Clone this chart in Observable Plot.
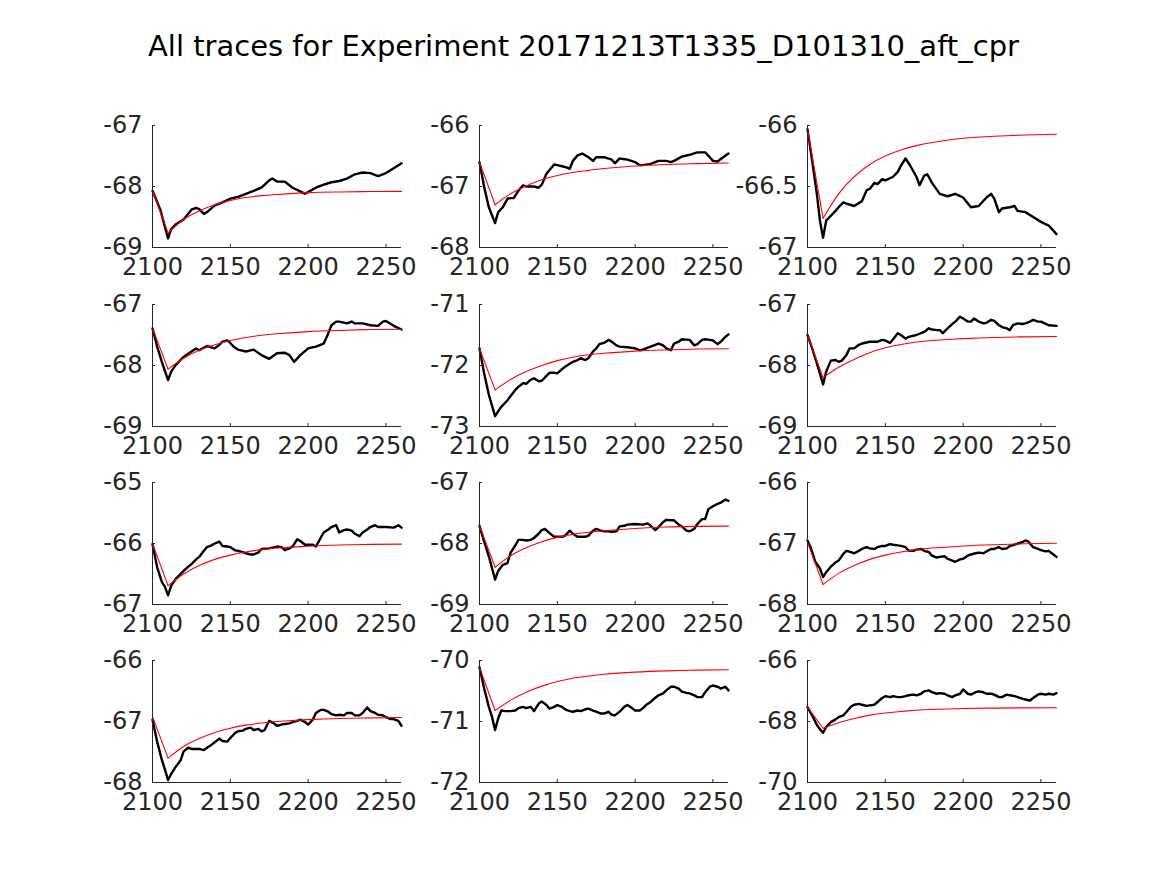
<!DOCTYPE html>
<html><head><meta charset="utf-8">
<script src="https://cdn.jsdelivr.net/npm/d3@7"></script>
<script src="https://cdn.jsdelivr.net/npm/@observablehq/plot@0.6"></script>
<style>
body{margin:0;background:#fff;}
#fig{position:relative;width:1167px;height:875px;background:#fff;font-family:"DejaVu Sans",sans-serif;overflow:hidden;}
#title{position:absolute;left:0;width:1167px;text-align:center;top:32px;font-size:29px;line-height:29px;color:#000;white-space:nowrap;}
.panel{position:absolute;}
.panel svg{overflow:visible;}
</style></head><body>
<div id="fig"><div id="title">All traces for Experiment 20171213T1335_D101310_aft_cpr</div></div>
<script>
const xTicks = [2100, 2150, 2200, 2250];
const fitTime = [2100, 2110, 2120, 2130, 2140, 2150, 2160, 2170, 2180, 2200, 2220, 2240, 2260];

const yTicks1 = [-69, -68, -67];
const yTicks2 = [-68, -67, -66];
const yTicks3 = [-67, -66.5, -66];
const yTicks4 = [-69, -68, -67];
const yTicks5 = [-73, -72, -71];
const yTicks6 = [-69, -68, -67];
const yTicks7 = [-67, -66, -65];
const yTicks8 = [-69, -68, -67];
const yTicks9 = [-68, -67, -66];
const yTicks10 = [-68, -67, -66];
const yTicks11 = [-72, -71, -70];
const yTicks12 = [-70, -68, -66];

const fit1 = [-68.07, -68.76, -68.54, -68.4, -68.3, -68.23, -68.18, -68.15, -68.13, -68.1, -68.09, -68.083, -68.08];
const fit2 = [-66.6, -67.3, -67.12, -66.99, -66.89, -66.82, -66.77, -66.735, -66.705, -66.665, -66.64, -66.625, -66.615];
const fit3 = [-66.03, -66.76, -66.56, -66.42, -66.32, -66.25, -66.2, -66.165, -66.14, -66.105, -66.088, -66.078, -66.072];
const fit4 = [-67.39, -68.06, -67.88, -67.75, -67.66, -67.59, -67.54, -67.505, -67.48, -67.445, -67.425, -67.41, -67.405];
const fit5 = [-71.72, -72.4, -72.23, -72.1, -72.0, -71.92, -71.865, -71.825, -71.8, -71.765, -71.745, -71.73, -71.725];
const fit6 = [-67.5, -68.2, -68.03, -67.9, -67.79, -67.71, -67.655, -67.615, -67.59, -67.56, -67.54, -67.53, -67.525];
const fit7 = [-66.0, -66.69, -66.5, -66.36, -66.26, -66.19, -66.14, -66.1, -66.075, -66.045, -66.025, -66.015, -66.01];
const fit8 = [-67.71, -68.39, -68.2, -68.07, -67.97, -67.9, -67.85, -67.815, -67.79, -67.755, -67.73, -67.72, -67.715];
const fit9 = [-66.98, -67.67, -67.49, -67.36, -67.26, -67.19, -67.14, -67.1, -67.075, -67.04, -67.02, -67.005, -66.995];
const fit10 = [-66.92, -67.6, -67.41, -67.28, -67.18, -67.11, -67.06, -67.025, -67.0, -66.97, -66.95, -66.94, -66.935];
const fit11 = [-70.11, -70.82, -70.65, -70.52, -70.42, -70.345, -70.29, -70.255, -70.225, -70.19, -70.17, -70.158, -70.152];
const fit12 = [-67.53, -68.22, -68.04, -67.9, -67.79, -67.72, -67.67, -67.63, -67.605, -67.575, -67.56, -67.552, -67.548];

const trace1 = [[2100,-68.07],[2105,-68.38],[2110,-68.85],[2112,-68.7],[2115,-68.62],[2120,-68.54],[2125,-68.38],[2128,-68.35],[2130,-68.37],[2133,-68.45],[2135,-68.42],[2140,-68.31],[2145,-68.26],[2150,-68.2],[2155,-68.17],[2160,-68.12],[2165,-68.07],[2170,-68.02],[2175,-67.9],[2177,-67.87],[2180,-67.92],[2185,-67.92],[2190,-68.02],[2195,-68.08],[2198,-68.12],[2200,-68.09],[2205,-68.02],[2210,-67.97],[2215,-67.93],[2220,-67.91],[2225,-67.87],[2230,-67.8],[2235,-67.77],[2240,-67.78],[2245,-67.83],[2250,-67.78],[2255,-67.7],[2260,-67.62]];
const trace2 = [[2100,-66.6],[2103,-67.01],[2106,-67.34],[2110,-67.6],[2112,-67.42],[2115,-67.34],[2118,-67.2],[2120,-67.19],[2122,-67.19],[2125,-67.07],[2128,-66.98],[2130,-67.0],[2135,-67.0],[2138,-67.02],[2140,-66.97],[2143,-66.79],[2145,-66.73],[2148,-66.64],[2150,-66.65],[2155,-66.68],[2158,-66.71],[2160,-66.58],[2163,-66.49],[2166,-66.46],[2170,-66.52],[2173,-66.58],[2175,-66.52],[2180,-66.52],[2185,-66.56],[2187,-66.62],[2190,-66.54],[2195,-66.56],[2200,-66.6],[2203,-66.65],[2205,-66.65],[2210,-66.63],[2215,-66.58],[2220,-66.58],[2223,-66.6],[2225,-66.58],[2230,-66.51],[2235,-66.48],[2240,-66.44],[2245,-66.44],[2248,-66.52],[2250,-66.58],[2253,-66.59],[2255,-66.55],[2260,-66.46]];
const trace3 = [[2100,-66.03],[2103,-66.29],[2106,-66.56],[2108,-66.78],[2110,-66.92],[2112,-66.78],[2115,-66.74],[2118,-66.7],[2120,-66.67],[2123,-66.63],[2125,-66.64],[2130,-66.66],[2135,-66.62],[2138,-66.53],[2140,-66.52],[2143,-66.47],[2145,-66.48],[2148,-66.44],[2150,-66.45],[2155,-66.42],[2158,-66.38],[2160,-66.33],[2163,-66.27],[2166,-66.33],[2170,-66.42],[2172,-66.49],[2175,-66.41],[2177,-66.4],[2180,-66.47],[2185,-66.56],[2190,-66.58],[2195,-66.56],[2200,-66.59],[2205,-66.67],[2210,-66.66],[2215,-66.59],[2218,-66.56],[2220,-66.6],[2223,-66.71],[2225,-66.68],[2230,-66.67],[2233,-66.66],[2235,-66.7],[2240,-66.71],[2245,-66.75],[2250,-66.79],[2255,-66.82],[2260,-66.89]];
const trace4 = [[2100,-67.39],[2103,-67.69],[2106,-67.94],[2110,-68.24],[2112,-68.1],[2115,-67.99],[2118,-67.91],[2120,-67.86],[2125,-67.77],[2128,-67.72],[2130,-67.75],[2135,-67.68],[2140,-67.72],[2143,-67.66],[2145,-67.61],[2148,-67.59],[2150,-67.63],[2152,-67.69],[2155,-67.74],[2160,-67.77],[2165,-67.74],[2170,-67.83],[2175,-67.89],[2180,-67.8],[2185,-67.79],[2188,-67.83],[2191,-67.94],[2195,-67.83],[2200,-67.72],[2205,-67.69],[2210,-67.64],[2212,-67.53],[2215,-67.34],[2218,-67.28],[2220,-67.28],[2225,-67.31],[2228,-67.28],[2230,-67.31],[2235,-67.31],[2240,-67.34],[2245,-67.35],[2248,-67.28],[2250,-67.27],[2255,-67.35],[2260,-67.41]];
const trace5 = [[2100,-71.72],[2103,-72.13],[2106,-72.48],[2110,-72.83],[2113,-72.71],[2115,-72.65],[2118,-72.57],[2120,-72.5],[2123,-72.4],[2125,-72.35],[2128,-72.29],[2130,-72.3],[2133,-72.23],[2135,-72.21],[2138,-72.26],[2140,-72.25],[2143,-72.17],[2145,-72.12],[2148,-72.12],[2150,-72.13],[2153,-72.06],[2155,-72.02],[2160,-71.94],[2163,-71.91],[2165,-71.88],[2168,-71.91],[2170,-71.88],[2173,-71.77],[2175,-71.72],[2177,-71.65],[2180,-71.63],[2183,-71.58],[2185,-71.61],[2188,-71.67],[2190,-71.69],[2195,-71.7],[2200,-71.72],[2203,-71.75],[2205,-71.74],[2210,-71.69],[2215,-71.64],[2218,-71.67],[2220,-71.72],[2223,-71.75],[2225,-71.64],[2228,-71.61],[2230,-71.57],[2235,-71.58],[2238,-71.67],[2240,-71.65],[2243,-71.58],[2245,-71.57],[2248,-71.58],[2250,-71.59],[2253,-71.65],[2255,-71.61],[2258,-71.53],[2260,-71.49]];
const trace6 = [[2100,-67.5],[2103,-67.72],[2106,-67.96],[2110,-68.31],[2112,-68.1],[2115,-67.92],[2118,-67.91],[2120,-67.94],[2122,-67.92],[2125,-67.83],[2127,-67.72],[2130,-67.72],[2133,-67.66],[2135,-67.64],[2140,-67.61],[2145,-67.61],[2148,-67.58],[2150,-67.59],[2153,-67.63],[2155,-67.57],[2158,-67.47],[2160,-67.5],[2163,-67.56],[2165,-67.53],[2170,-67.5],[2175,-67.45],[2178,-67.39],[2180,-67.41],[2183,-67.42],[2185,-67.42],[2187,-67.47],[2190,-67.39],[2193,-67.32],[2195,-67.28],[2198,-67.2],[2200,-67.23],[2203,-67.28],[2205,-67.28],[2207,-67.23],[2210,-67.28],[2213,-67.31],[2215,-67.3],[2218,-67.25],[2220,-67.27],[2223,-67.34],[2225,-67.37],[2228,-67.39],[2230,-67.42],[2232,-67.34],[2235,-67.31],[2238,-67.32],[2240,-67.31],[2243,-67.28],[2245,-67.25],[2248,-67.28],[2250,-67.28],[2255,-67.34],[2260,-67.35]];
const trace7 = [[2100,-66.01],[2103,-66.39],[2106,-66.63],[2108,-66.71],[2110,-66.85],[2112,-66.69],[2115,-66.58],[2118,-66.5],[2120,-66.45],[2123,-66.38],[2125,-66.34],[2128,-66.26],[2130,-66.22],[2133,-66.12],[2135,-66.06],[2138,-66.03],[2140,-66.0],[2143,-65.97],[2145,-66.04],[2148,-66.05],[2150,-66.06],[2153,-66.11],[2155,-66.12],[2158,-66.14],[2160,-66.16],[2163,-66.18],[2165,-66.18],[2168,-66.15],[2170,-66.09],[2175,-66.08],[2180,-66.05],[2183,-66.06],[2185,-66.11],[2188,-66.08],[2190,-66.05],[2193,-65.93],[2195,-65.96],[2198,-66.02],[2200,-66.02],[2203,-66.02],[2205,-66.05],[2208,-65.91],[2210,-65.82],[2213,-65.77],[2215,-65.73],[2218,-65.7],[2220,-65.82],[2223,-65.78],[2225,-65.77],[2228,-65.79],[2230,-65.84],[2233,-65.88],[2235,-65.82],[2238,-65.77],[2240,-65.73],[2243,-65.7],[2245,-65.73],[2250,-65.73],[2255,-65.74],[2258,-65.7],[2260,-65.74]];
const trace8 = [[2100,-67.71],[2103,-67.97],[2106,-68.21],[2110,-68.59],[2112,-68.45],[2115,-68.35],[2118,-68.32],[2120,-68.15],[2123,-68.03],[2125,-67.94],[2128,-67.94],[2130,-67.95],[2133,-67.94],[2135,-67.91],[2138,-67.84],[2140,-67.78],[2142,-67.76],[2145,-67.83],[2148,-67.89],[2150,-67.89],[2153,-67.89],[2155,-67.87],[2158,-67.79],[2160,-67.84],[2163,-67.89],[2165,-67.89],[2168,-67.89],[2170,-67.87],[2173,-67.79],[2175,-67.76],[2178,-67.79],[2180,-67.8],[2183,-67.8],[2185,-67.81],[2188,-67.8],[2190,-67.72],[2193,-67.71],[2195,-67.69],[2200,-67.68],[2205,-67.69],[2208,-67.67],[2210,-67.71],[2213,-67.78],[2215,-67.73],[2218,-67.65],[2220,-67.61],[2223,-67.62],[2225,-67.62],[2228,-67.69],[2230,-67.72],[2233,-67.79],[2235,-67.8],[2238,-67.76],[2240,-67.68],[2243,-67.6],[2245,-67.6],[2247,-67.44],[2250,-67.39],[2253,-67.35],[2255,-67.33],[2258,-67.28],[2260,-67.3]];
const trace9 = [[2100,-66.95],[2102,-67.06],[2105,-67.3],[2108,-67.41],[2110,-67.55],[2112,-67.47],[2115,-67.38],[2118,-67.31],[2120,-67.28],[2123,-67.17],[2125,-67.12],[2128,-67.14],[2130,-67.16],[2133,-67.12],[2135,-67.09],[2138,-67.06],[2140,-67.08],[2143,-67.09],[2145,-67.06],[2148,-67.04],[2150,-67.04],[2153,-67.01],[2155,-67.02],[2158,-67.03],[2160,-67.04],[2163,-67.06],[2165,-67.12],[2168,-67.12],[2170,-67.1],[2173,-67.09],[2175,-67.12],[2178,-67.14],[2180,-67.2],[2183,-67.23],[2185,-67.22],[2188,-67.21],[2190,-67.25],[2193,-67.28],[2195,-67.3],[2198,-67.26],[2200,-67.25],[2203,-67.2],[2205,-67.18],[2208,-67.16],[2210,-67.15],[2213,-67.16],[2215,-67.13],[2218,-67.09],[2220,-67.09],[2223,-67.06],[2225,-67.09],[2228,-67.08],[2230,-67.04],[2233,-67.02],[2235,-67.0],[2238,-66.98],[2240,-66.95],[2242,-66.97],[2245,-67.06],[2248,-67.09],[2250,-67.11],[2253,-67.13],[2255,-67.12],[2258,-67.18],[2260,-67.22]];
const trace10 = [[2100,-66.97],[2103,-67.33],[2106,-67.63],[2108,-67.79],[2110,-67.96],[2112,-67.86],[2115,-67.74],[2118,-67.64],[2120,-67.49],[2123,-67.43],[2125,-67.45],[2128,-67.45],[2130,-67.45],[2133,-67.47],[2135,-67.43],[2138,-67.38],[2140,-67.34],[2143,-67.28],[2145,-67.32],[2148,-67.33],[2150,-67.27],[2153,-67.19],[2155,-67.16],[2158,-67.15],[2160,-67.12],[2163,-67.1],[2165,-67.14],[2168,-67.12],[2170,-67.16],[2172,-67.14],[2175,-66.99],[2178,-67.03],[2180,-67.07],[2183,-67.05],[2185,-67.04],[2188,-67.03],[2190,-67.01],[2193,-66.99],[2195,-66.97],[2198,-67.01],[2200,-67.05],[2203,-66.97],[2205,-66.86],[2208,-66.81],[2210,-66.81],[2213,-66.84],[2215,-66.88],[2218,-66.9],[2220,-66.89],[2223,-66.9],[2225,-66.86],[2228,-66.86],[2230,-66.9],[2233,-66.9],[2235,-66.86],[2238,-66.77],[2240,-66.83],[2243,-66.86],[2245,-66.89],[2248,-66.9],[2250,-66.93],[2253,-66.96],[2255,-66.96],[2258,-66.99],[2260,-67.07]];
const trace11 = [[2100,-70.11],[2103,-70.46],[2106,-70.76],[2108,-70.92],[2110,-71.14],[2112,-70.95],[2114,-70.82],[2117,-70.83],[2120,-70.83],[2123,-70.82],[2125,-70.78],[2128,-70.76],[2130,-70.78],[2133,-70.76],[2135,-70.83],[2138,-70.71],[2140,-70.67],[2143,-70.73],[2145,-70.79],[2148,-70.76],[2150,-70.73],[2153,-70.76],[2155,-70.8],[2158,-70.83],[2160,-70.84],[2163,-70.82],[2165,-70.83],[2168,-70.8],[2170,-70.79],[2173,-70.82],[2175,-70.84],[2178,-70.87],[2180,-70.87],[2183,-70.84],[2185,-70.89],[2187,-70.9],[2190,-70.84],[2193,-70.76],[2195,-70.73],[2198,-70.78],[2200,-70.82],[2203,-70.82],[2205,-70.78],[2207,-70.73],[2210,-70.68],[2213,-70.61],[2215,-70.57],[2218,-70.54],[2220,-70.49],[2223,-70.43],[2225,-70.43],[2228,-70.46],[2230,-70.51],[2233,-70.53],[2235,-70.54],[2238,-70.57],[2240,-70.6],[2243,-70.6],[2245,-70.52],[2248,-70.43],[2250,-70.41],[2253,-70.43],[2255,-70.46],[2258,-70.43],[2260,-70.49]];
const trace12 = [[2100,-67.53],[2103,-67.8],[2106,-68.11],[2108,-68.26],[2110,-68.37],[2112,-68.18],[2115,-68.02],[2118,-67.93],[2120,-67.86],[2123,-67.8],[2125,-67.69],[2128,-67.51],[2130,-67.45],[2133,-67.42],[2135,-67.45],[2138,-67.49],[2140,-67.47],[2143,-67.45],[2145,-67.36],[2148,-67.23],[2150,-67.17],[2153,-67.2],[2155,-67.17],[2158,-67.2],[2160,-67.2],[2163,-67.17],[2165,-67.14],[2168,-67.12],[2170,-67.14],[2173,-67.09],[2175,-67.01],[2178,-66.98],[2180,-67.04],[2183,-67.09],[2185,-67.07],[2188,-67.09],[2190,-67.14],[2193,-67.2],[2195,-67.14],[2198,-67.09],[2200,-66.95],[2203,-67.09],[2205,-67.12],[2208,-67.04],[2210,-67.01],[2213,-67.04],[2215,-67.09],[2218,-67.09],[2220,-67.12],[2223,-67.2],[2225,-67.2],[2228,-67.12],[2230,-67.14],[2233,-67.17],[2235,-67.2],[2238,-67.25],[2240,-67.28],[2243,-67.31],[2245,-67.23],[2248,-67.12],[2250,-67.09],[2253,-67.12],[2255,-67.09],[2258,-67.12],[2260,-67.07]];

const traces = [trace1, trace2, trace3, trace4, trace5, trace6, trace7, trace8, trace9, trace10, trace11, trace12];
const fits = [fit1, fit2, fit3, fit4, fit5, fit6, fit7, fit8, fit9, fit10, fit11, fit12];
const yTickSets = [yTicks1, yTicks2, yTicks3, yTicks4, yTicks5, yTicks6, yTicks7, yTicks8, yTicks9, yTicks10, yTicks11, yTicks12];

// layout
const colLeft = [152, 479, 807];
const rowTop = [125, 304, 482, 660];
const innerW = 249, innerH = 122;
const mL = 80, mR = 40, mT = 20, mB = 45;
const ink = "#262626";
const fig = document.getElementById("fig");

traces.forEach((tr, i) => {
  const row = Math.floor(i / 3), col = i % 3;
  const yt = yTickSets[i];
  const f = fits[i];
  const drop = [{t: fitTime[0], v: f[0]}, {t: fitTime[1], v: f[1]}];
  const recovery = f.slice(1).map((v, k) => ({t: fitTime[k + 1], v}));
  const data = tr.map(([t, v]) => ({t, v}));
  const p = Plot.plot({
    width: mL + innerW + mR, height: mT + innerH + mB,
    marginLeft: mL, marginRight: mR, marginTop: mT, marginBottom: mB,
    x: {domain: [2100, 2260]},
    y: {domain: [yt[0], yt[yt.length - 1]]},
    style: {fontFamily: "DejaVu Sans", fontSize: "24px", color: ink, background: "transparent", overflow: "visible"},
    marks: [
      Plot.axisX({ticks: xTicks, tickSize: 0, tickPadding: 10, tickFormat: d => String(d), fontSize: 24, label: null, fill: ink}),
      Plot.axisY({ticks: yt, tickSize: 0, tickPadding: 10, tickFormat: d => String(d), fontSize: 24, label: null, fill: ink}),
      Plot.line(data, {x: "t", y: "v", stroke: "#000", strokeWidth: 2.4}),
      Plot.line(drop, {x: "t", y: "v", stroke: "#ff0000", strokeWidth: 1.1}),
      Plot.line(recovery, {x: "t", y: "v", stroke: "#ff0000", strokeWidth: 1.1, curve: "natural"}),
      Plot.ruleX([2100], {stroke: ink, strokeWidth: 1}),
      Plot.ruleY([yt[0]], {stroke: ink, strokeWidth: 1}),
      Plot.tickX(xTicks, {x: d => d, stroke: ink, insetTop: innerH - 3}),
      Plot.tickY(yt, {y: d => d, stroke: ink, insetRight: innerW - 3})
    ]
  });
  const wrap = document.createElement("div");
  wrap.className = "panel";
  wrap.style.left = (colLeft[col] - mL) + "px";
  wrap.style.top = (rowTop[row] - mT) + "px";
  wrap.appendChild(p);
  fig.appendChild(wrap);
});
</script>
</body></html>
